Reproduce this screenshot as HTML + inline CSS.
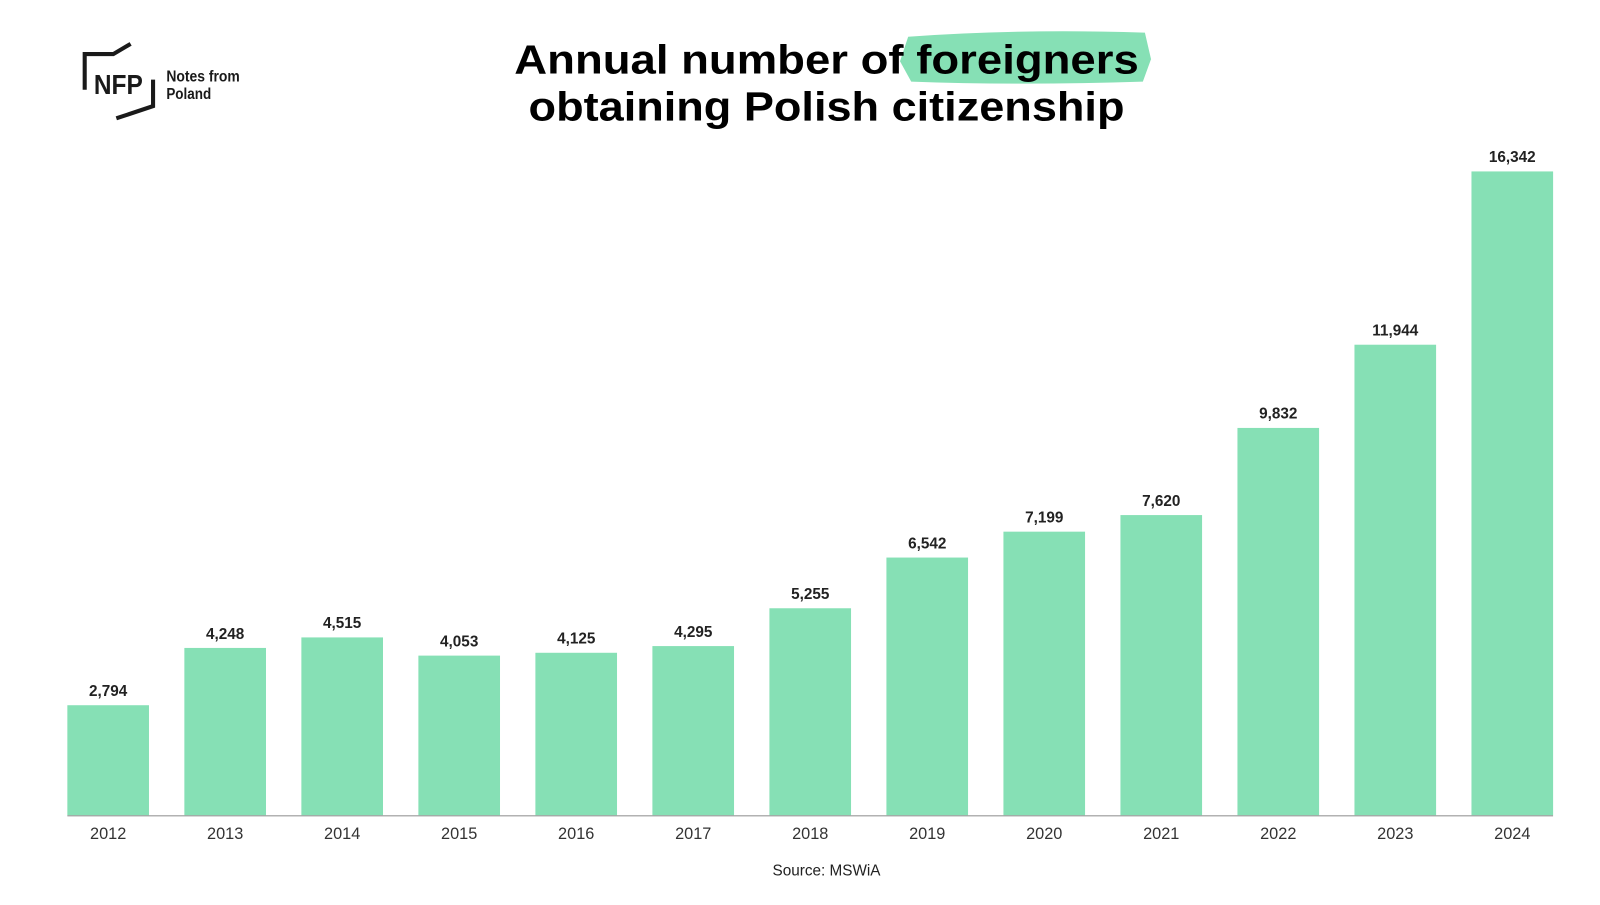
<!DOCTYPE html>
<html><head><meta charset="utf-8"><style>
body{margin:0;background:#fff;width:1600px;height:900px;overflow:hidden;font-family:"Liberation Sans",sans-serif}
</style></head><body>
<svg width="1600" height="900" viewBox="0 0 1568 882">
<g stroke="#1a1a1a" stroke-width="4" fill="none">
<polyline points="83,88 83,53 111,53 128,43"/>
<polyline points="150,78 150,104 114,116"/>
</g>
<text x="92" y="92" font-size="27" font-weight="bold" fill="#1a1a1a" textLength="48" lengthAdjust="spacingAndGlyphs">NFP</text>
<text x="163" y="80" font-size="15" font-weight="bold" fill="#1a1a1a" textLength="72" lengthAdjust="spacingAndGlyphs">Notes from</text>
<text x="163" y="97" font-size="15" font-weight="bold" fill="#1a1a1a" textLength="44" lengthAdjust="spacingAndGlyphs">Poland</text>
<path d="M890,36 Q1000,28 1122,32 L1128,58 L1120,80 Q1000,84 893,80 L882,60 Z" fill="#86e0b5"/>
<text x="810" y="72" font-size="40" font-weight="900" text-anchor="middle" fill="#000" textLength="612" lengthAdjust="spacingAndGlyphs">Annual number of foreigners</text>
<text x="810" y="118" font-size="40" font-weight="900" text-anchor="middle" fill="#000" textLength="584" lengthAdjust="spacingAndGlyphs">obtaining Polish citizenship</text>
<g id="bars"></g>
<line x1="66" y1="799.5" x2="1522" y2="799.5" stroke="#999" stroke-width="1"/>
<text x="810" y="858" font-size="15" text-anchor="middle" fill="#222">Source: MSWiA</text>
</svg>
<script>
const years=["2012","2013","2014","2015","2016","2017","2018","2019","2020","2021","2022","2023","2024"];
const values=[2794,4248,4515,4053,4125,4295,5255,6542,7199,7620,9832,11944,16342];
const g=document.getElementById('bars');
const ns='http://www.w3.org/2000/svg';
const x0=66,step=114.67,bw=80,base=799,ppu=631/16342;
function xs(i){return x0+i*step;}
function ys(v){return base-v*ppu;}
years.forEach((yr,i)=>{
 const r=document.createElementNS(ns,'rect');
 r.setAttribute('x',xs(i));r.setAttribute('y',ys(values[i]));
 r.setAttribute('width',bw);r.setAttribute('height',base-ys(values[i]));
 r.setAttribute('fill','#86e0b5');
 
 
 g.appendChild(r);
 const t=document.createElementNS(ns,'text');
 t.setAttribute('x',xs(i)+bw/2);t.setAttribute('y',ys(values[i])-9);
 t.setAttribute('text-anchor','middle');t.setAttribute('font-size','15');t.setAttribute('font-weight','bold');t.setAttribute('fill','#222');
 t.textContent=values[i].toLocaleString('en-US');
 
 
 g.appendChild(t);
 const l=document.createElementNS(ns,'text');
 l.setAttribute('x',xs(i)+bw/2);l.setAttribute('y',822);
 l.setAttribute('text-anchor','middle');l.setAttribute('font-size','16');l.setAttribute('fill','#333');
 l.textContent=yr;
 
 
 g.appendChild(l);
});
</script>
</body></html>
